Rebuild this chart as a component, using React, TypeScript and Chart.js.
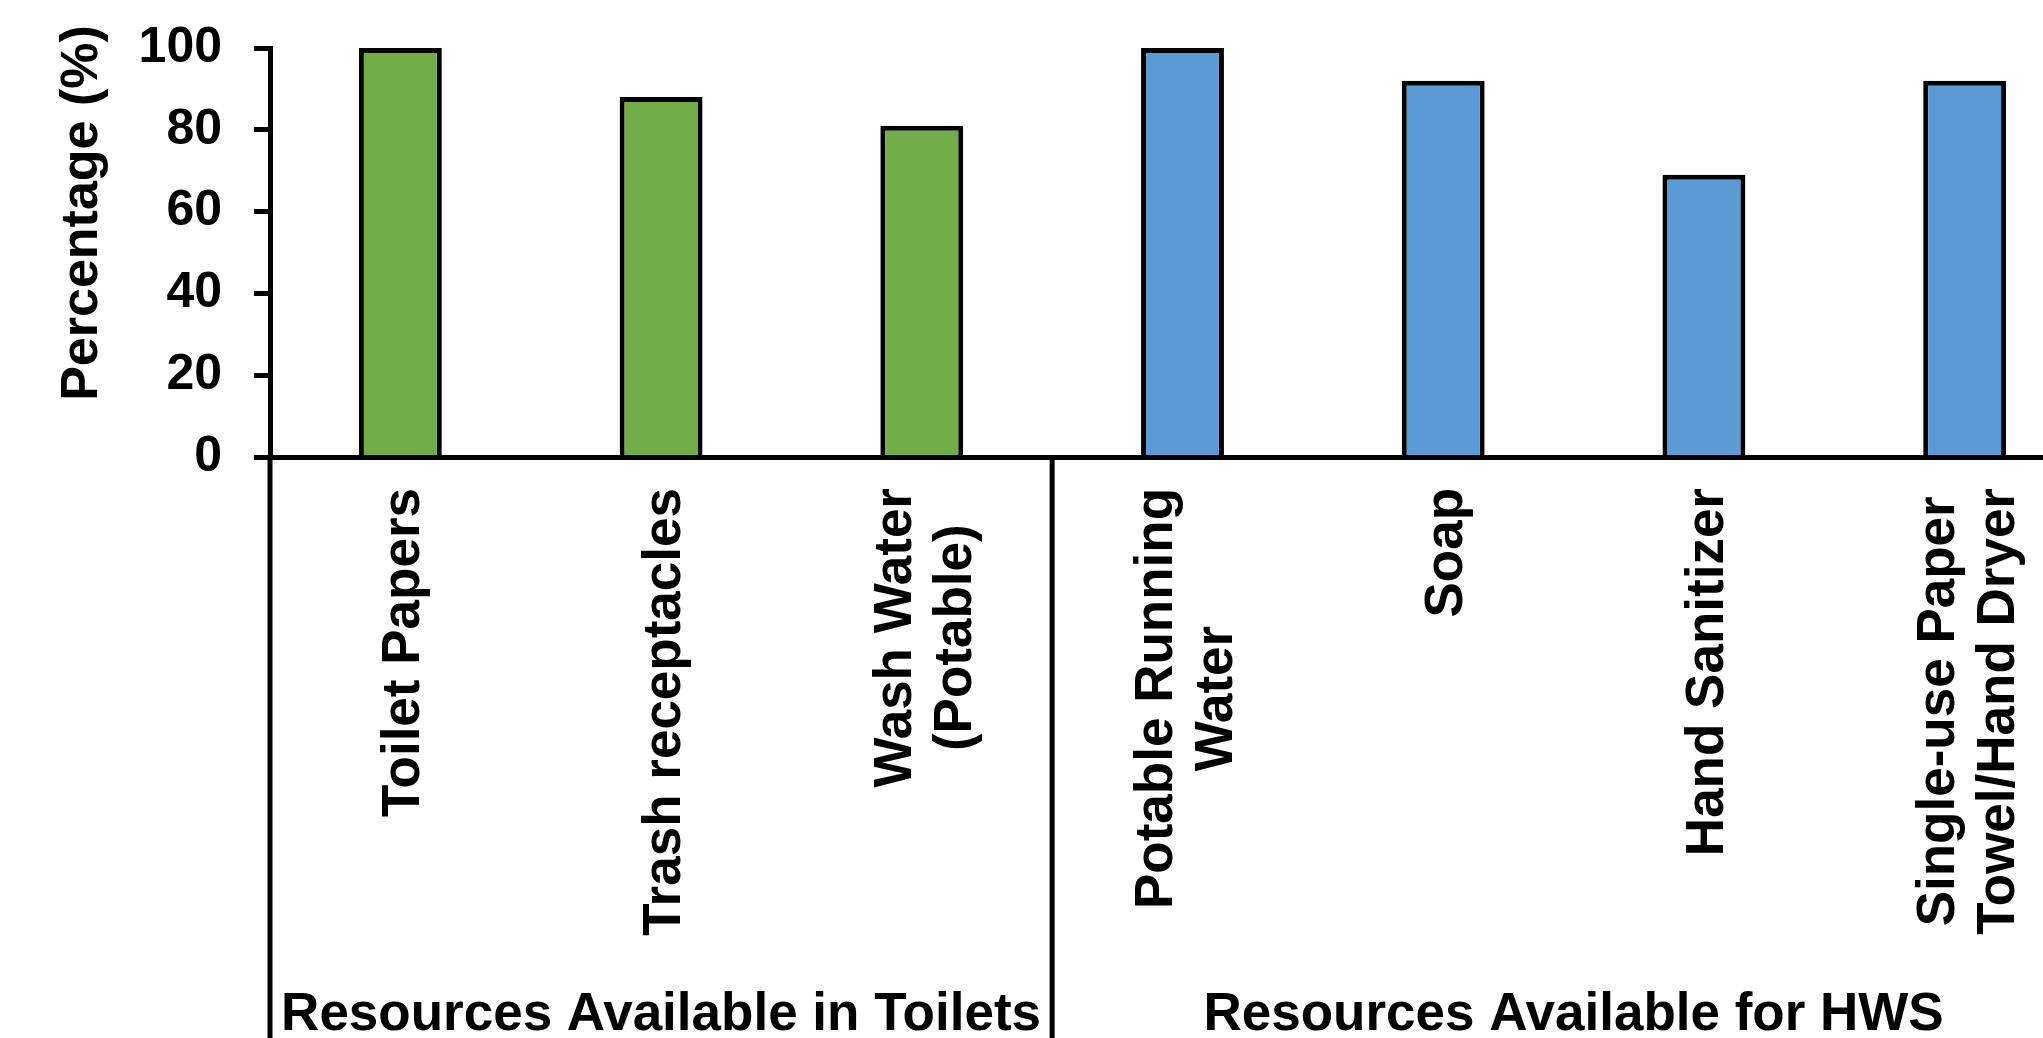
import React, { useEffect, useRef } from 'react';
import { Chart, registerables } from 'chart.js';

Chart.register(...registerables);

// ---- data ----
const categoryLines: string[][] = [
  ['Toilet Papers'],
  ['Trash receptacles'],
  ['Wash Water', '(Potable)'],
  ['Potable Running', 'Water'],
  ['Soap'],
  ['Hand Sanitizer'],
  ['Single-use Paper', 'Towel/Hand Dryer'],
];
const values: number[] = [100, 88, 81, 100, 92, 69, 92];
const groupNames: string[] = ['Resources Available in Toilets', 'Resources Available for HWS'];
const groupSizes: number[] = [3, 4];
const groupColors: string[] = ['#70AD47', '#5B9BD5'];
const yMin = 0;
const yMax = 100;
const yStep = 20;
const yTitle = 'Percentage (%)';

const FONT = '"Liberation Sans", Arial, Helvetica, sans-serif';

const barColors: string[] = [];
groupSizes.forEach((n, g) => {
  for (let i = 0; i < n; i++) barColors.push(groupColors[g]);
});

const annotPlugin = {
  id: 'annot',
  afterDraw(chart: any) {
    const ctx: CanvasRenderingContext2D = chart.ctx;
    const xs = chart.scales.x;
    const area = chart.chartArea;
    const H = chart.height;
    const half = (xs.getPixelForTick(1) - xs.getPixelForTick(0)) / 2;
    ctx.save();
    ctx.fillStyle = '#000';
    ctx.strokeStyle = '#000';

    // group boundaries and separators
    const bounds: number[] = [];
    let idx = 0;
    bounds.push(xs.getPixelForTick(0) - half);
    groupSizes.forEach((n) => {
      idx += n;
      bounds.push(xs.getPixelForTick(idx - 1) + half);
    });
    ctx.lineWidth = 5;
    for (let b = 0; b < bounds.length - 1; b++) {
      ctx.beginPath();
      ctx.moveTo(bounds[b], area.bottom);
      ctx.lineTo(bounds[b], H);
      ctx.stroke();
    }

    // category labels (rotated, centered lines)
    ctx.font = `bold 53px ${FONT}`;
    const lineH = 60;
    categoryLines.forEach((lines, i) => {
      const px = xs.getPixelForTick(i);
      const maxW = Math.max(...lines.map((l) => ctx.measureText(l).width));
      const cy = area.bottom + 31 + maxW / 2;
      const n = lines.length;
      lines.forEach((l, j) => {
        ctx.save();
        ctx.translate(px + (j - (n - 1) / 2) * lineH + 19, cy);
        ctx.rotate(-Math.PI / 2);
        ctx.textAlign = 'center';
        ctx.textBaseline = 'alphabetic';
        ctx.fillText(l, 0, 0);
        ctx.restore();
      });
    });

    // group labels
    ctx.font = `bold 53px ${FONT}`;
    ctx.textAlign = 'center';
    ctx.textBaseline = 'alphabetic';
    groupNames.forEach((name, g) => {
      ctx.fillText(name, (bounds[g] + bounds[g + 1]) / 2, H - 8);
    });

    // y axis title
    ctx.save();
    ctx.font = `bold 52px ${FONT}`;
    ctx.translate(97, 213);
    ctx.rotate(-Math.PI / 2);
    ctx.textAlign = 'center';
    ctx.textBaseline = 'alphabetic';
    ctx.fillText(yTitle, 0, 0);
    ctx.restore();

    ctx.restore();
  },
};

export default function App() {
  const ref = useRef<HTMLCanvasElement | null>(null);
  useEffect(() => {
    if (!ref.current) return;
    const chart = new Chart(ref.current, {
      type: 'bar',
      data: {
        labels: categoryLines.map((l) => l.join(' ')),
        datasets: [
          {
            data: values,
            backgroundColor: barColors,
            borderColor: '#000',
            borderWidth: 5,
            barPercentage: 0.318,
            categoryPercentage: 1,
          },
        ],
      },
      options: {
        animation: false,
        responsive: false,
        devicePixelRatio: 1,
        layout: { padding: { top: 48, right: 25, bottom: 0, left: 0 } },
        plugins: { legend: { display: false }, tooltip: { enabled: false }, title: { display: false } },
        scales: {
          x: {
            type: 'category',
            offset: true,
            grid: { display: true, drawOnChartArea: false, drawTicks: false },
            border: { display: true, color: '#000', width: 5, z: 1 },
            ticks: { display: false },
            afterFit: (scale: any) => {
              scale.height = 581;
              scale.paddingLeft = 0;
              scale.paddingRight = 0;
            },
          },
          y: {
            min: yMin,
            max: yMax,
            ticks: {
              stepSize: yStep,
              color: '#000',
              padding: 32,
              font: { family: FONT, size: 50, weight: 'bold' },
            },
            grid: {
              drawOnChartArea: false,
              drawTicks: true,
              tickLength: 16,
              tickWidth: 5,
              tickColor: '#000',
            },
            border: { display: true, color: '#000', width: 5, z: 1 },
            afterFit: (scale: any) => {
              scale.width = 270;
              scale.paddingTop = 0;
              scale.paddingBottom = 0;
            },
          },
        },
      },
      plugins: [annotPlugin],
    } as any);
    return () => chart.destroy();
  }, []);
  return (
    <div
      style={{
        position: 'fixed',
        left: 0,
        top: 0,
        width: 2043,
        height: 1038,
        overflow: 'hidden',
        background: '#fff',
      }}
    >
      <canvas ref={ref} width={2120} height={1038} style={{ width: 2120, height: 1038, display: 'block' }} />
    </div>
  );
}
